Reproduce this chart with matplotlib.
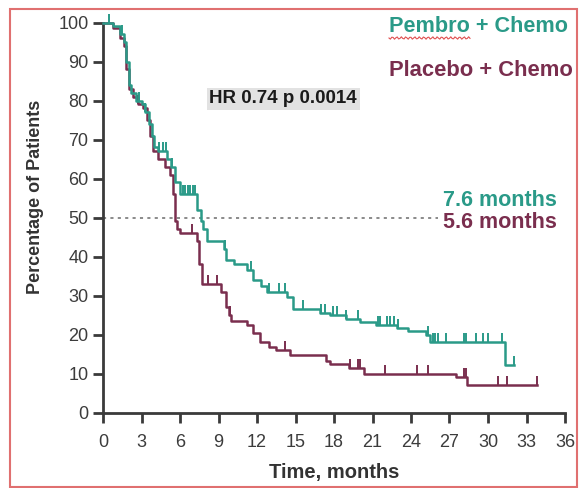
import numpy as np
import matplotlib
matplotlib.use("Agg")
import matplotlib.pyplot as plt
from matplotlib.patches import Rectangle

plt.rcParams["font.family"] = ["Liberation Sans", "DejaVu Sans"]

TEAL = "#2a9a88"
MAROON = "#7a2e4e"
AXIS = "#3a3a3a"

# Kaplan-Meier steps: time of each drop (months) and survival after it (%)
pembro_t = [0, 0.8, 1.3, 1.6, 1.8, 2.0, 2.2, 2.6, 3.0, 3.3, 3.6, 3.8, 4.0, 4.3,
            5.0, 5.3, 5.6, 6.0, 7.3, 7.6, 7.8, 8.1, 9.4, 9.6, 10.2, 11.2, 11.7,
            12.3, 12.8, 14.3, 14.8, 16.9, 17.7, 18.9, 20.0, 21.3, 22.9, 23.8,
            25.2, 25.5, 31.3]
pembro_s = [100, 99, 97, 95, 90, 84, 82, 80, 79, 77, 74, 71, 68, 67,
            65, 63, 59, 56, 52, 49, 47, 44, 42, 39, 38, 36.5, 34,
            32.5, 31, 29.5, 26.5, 25.5, 25, 24, 23.3, 22.5, 21.6, 20.8,
            19.8, 18, 12.2]
pembro_end = 32.0
pembro_cens = [0.5, 1.5, 2.8, 3.3, 4.4, 4.7, 4.9, 5.4, 6.2, 6.4, 6.6, 6.8, 7.0,
               7.2, 9.5, 11.5, 12.9, 13.7, 14.2, 15.6, 17.0, 17.3, 17.95, 18.2,
               18.9, 19.9, 21.4, 21.6, 22.1, 22.4, 22.7, 23.0, 25.35, 25.7,
               25.9, 26.1, 26.7, 28.1, 28.3, 29.1, 29.6, 30.0, 31.1, 32.0]

placebo_t = [0, 0.8, 1.3, 1.6, 1.8, 2.0, 2.3, 2.7, 3.1, 3.4, 3.7, 3.9, 4.3, 4.8,
             5.2, 5.45, 5.6, 5.75, 6.0, 7.3, 7.5, 7.7, 9.2, 9.6, 9.8, 10.0,
             11.2, 11.7, 12.2, 12.9, 13.5, 14.6, 17.4, 17.7, 19.2, 20.3, 27.5,
             28.4]
placebo_s = [100, 98.5, 96, 94, 88, 83, 81, 79, 78, 75, 71, 67, 65, 63,
             61, 56, 49, 47, 46, 44, 38, 33, 31, 27, 25, 23.5,
             22.5, 20.5, 18, 16.8, 16, 14.7, 13.3, 12.5, 11.5, 10, 9,
             7]
placebo_end = 33.8
placebo_cens = [2.7, 6.9, 8.2, 8.9, 9.9, 14.2, 19.25, 19.9, 20.05, 22.0, 24.45,
                25.35, 28.1, 28.25, 30.8, 31.5, 33.8]

median_pembro = "7.6 months"
median_placebo = "5.6 months"
hr_text = "HR 0.74 p 0.0014"
x_ticks = list(range(0, 37, 3))
y_ticks = list(range(0, 101, 10))


def value_at(times, surv, t):
    idx = np.searchsorted(times, t, side="right") - 1
    return np.asarray(surv)[idx]


def draw_arm(ax, times, surv, end, cens, color):
    tt = list(times) + [end]
    ss = list(surv) + [surv[-1]]
    ax.step(tt, ss, where="post", color=color, lw=1.8, clip_on=False, zorder=3)
    cy = value_at(times, surv, cens)
    ax.vlines(cens, cy, cy + 2.3, color=color, lw=1.4, clip_on=False, zorder=3)


fig = plt.figure(figsize=(5.82, 4.88), dpi=100)
ax = fig.add_axes([103 / 582, 1 - 412.5 / 488, 462 / 582, 390 / 488])

ax.plot([0, 26.1], [50, 50], color="#8a8a8a", lw=1.4, ls=(0, (1.6, 2.2)), zorder=1)
draw_arm(ax, placebo_t, placebo_s, placebo_end, placebo_cens, MAROON)
draw_arm(ax, pembro_t, pembro_s, pembro_end, pembro_cens, TEAL)

ax.set_xlim(0, 36)
ax.set_ylim(0, 100)
ax.set_xticks(x_ticks)
ax.set_yticks(y_ticks)
for side in ("top", "right"):
    ax.spines[side].set_visible(False)
for side in ("left", "bottom"):
    ax.spines[side].set_color(AXIS)
    ax.spines[side].set_linewidth(2)
ax.tick_params(colors=AXIS, width=2, length=7.5, labelsize=13)
ax.tick_params(axis="x", pad=8)
ax.tick_params(axis="y", pad=3)
for lab in ax.get_xticklabels() + ax.get_yticklabels():
    lab.set_color("#3c3c3c")

ax.set_xlabel("Time, months", fontsize=14.5, fontweight="bold", color="#333333")
ax.xaxis.set_label_coords(0.501, -0.13)
ax.set_ylabel("Percentage of Patients", fontsize=13, fontweight="bold", color="#333333")
ax.yaxis.set_label_coords(-0.127, 0.553)

ax.text(0.39, 0.804, hr_text, transform=ax.transAxes, ha="center", va="center",
        fontsize=13.5, fontweight="bold", color="#1a1a1a",
        bbox=dict(boxstyle="square,pad=0.15", fc="#e2e2e2", ec="none"))

fig.text(568 / 582, 1 - 27 / 488, "Pembro + Chemo", ha="right", va="center",
         fontsize=15.6, fontweight="bold", color=TEAL)
fig.text(573 / 582, 1 - 70 / 488, "Placebo + Chemo", ha="right", va="center",
         fontsize=15.8, fontweight="bold", color=MAROON)
# spell-check squiggle under "Pembro"
sq_x = np.linspace(389, 470, 60)
sq_y = 38 + 1.2 * np.sin((sq_x - 389) * 1.4)
fig.add_artist(plt.Line2D(sq_x / 582, 1 - sq_y / 488, color="#e05050", lw=0.8))

fig.text(443 / 582, 1 - 200 / 488, median_pembro, ha="left", va="center",
         fontsize=15.5, fontweight="bold", color=TEAL)
fig.text(443 / 582, 1 - 222 / 488, median_placebo, ha="left", va="center",
         fontsize=15.5, fontweight="bold", color=MAROON)

fig.add_artist(Rectangle((10 / 582, 1 / 488), 567 / 582, 478 / 488, transform=fig.transFigure,
                         fill=False, ec="#e07070", lw=1.5))

fig.savefig("out.png", dpi=100)
